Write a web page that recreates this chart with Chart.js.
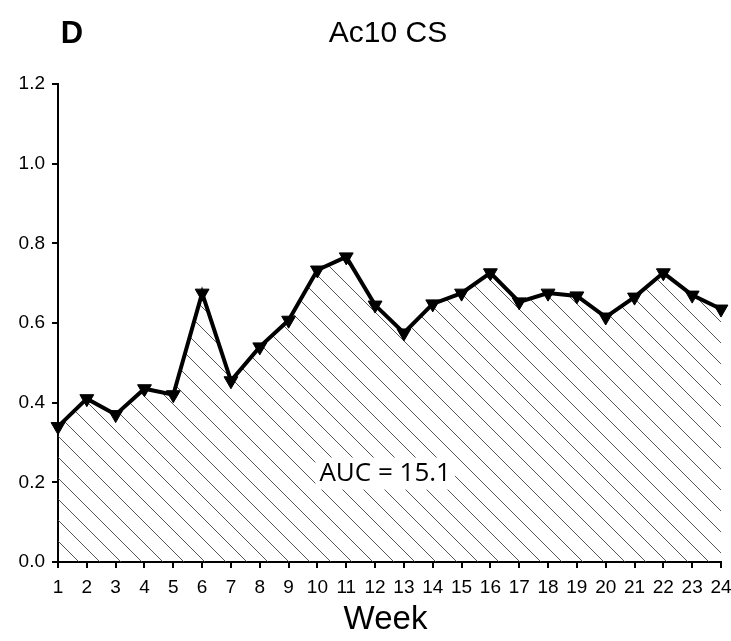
<!DOCTYPE html>
<html>
<head>
<meta charset="utf-8">
<script src="https://cdn.jsdelivr.net/npm/chart.js@4/dist/chart.umd.min.js"></script>
<style>
  html, body { margin: 0; padding: 0; background: #fff; }
  #wrap { width: 731px; height: 641px; }
</style>
</head>
<body>
<div id="wrap"><canvas id="aucChart" width="731" height="641"></canvas></div>
<script>
// weekly values for Ac10 CS
const weeks = [1, 2, 3, 4, 5, 6, 7, 8, 9, 10, 11, 12, 13, 14, 15, 16, 17, 18, 19, 20, 21, 22, 23, 24];
const values = [0.34, 0.41, 0.37, 0.435, 0.42, 0.675, 0.455, 0.54, 0.607, 0.733, 0.766, 0.645,
                 0.575, 0.648, 0.675, 0.726, 0.653, 0.675, 0.668, 0.615, 0.665, 0.726, 0.67, 0.635];
const yTicks = [0.0, 0.2, 0.4, 0.6, 0.8, 1.0, 1.2];
const panelLetter = 'D';
const chartTitle = 'Ac10 CS';
const xTitle = 'Week';
const aucLabel = 'AUC = 15.1';

// diagonal hatch used under the line
function makeHatch() {
  const size = 21;
  const c = document.createElement('canvas');
  c.width = size; c.height = size;
  const g = c.getContext('2d');
  g.strokeStyle = '#444';
  g.lineWidth = 0.9;
  g.beginPath();
  g.moveTo(-2, -2); g.lineTo(size + 2, size + 2);
  g.moveTo(-2 - size, -2); g.lineTo(2, size + 2);
  g.moveTo(size - 2, -2); g.lineTo(2 * size + 2, size + 2);
  g.stroke();
  return g.createPattern(c, 'repeat');
}

// panel letter, title, axis title and AUC box
const textPlugin = {
  id: 'texts',
  afterDraw(chart) {
    const ctx = chart.ctx;
    const area = chart.chartArea;
    const xs = chart.scales.x, ys = chart.scales.y;
    ctx.save();
    ctx.fillStyle = '#000';
    ctx.textBaseline = 'middle';
    ctx.textAlign = 'center';
    ctx.font = 'bold 31px "Liberation Sans", Arial, sans-serif';
    ctx.fillText(panelLetter, 72, 34);
    ctx.font = '30px "Liberation Sans", Arial, sans-serif';
    ctx.fillText(chartTitle, 388, 34);
    ctx.font = '33px "Liberation Sans", Arial, sans-serif';
    ctx.fillText(xTitle, (area.left + area.right) / 2 - 4, 620);

    const tx = xs.getPixelForValue(12.35);
    const ty = ys.getPixelForValue(0.222);
    ctx.font = '26px "Open Sans", sans-serif';
    const w = ctx.measureText(aucLabel).width;
    ctx.fillStyle = '#fff';
    ctx.fillRect(tx - w / 2 - 4, ty - 16, w + 8, 32);
    ctx.fillStyle = '#000';
    ctx.fillText(aucLabel, tx, ty);
    ctx.restore();
  }
};

const ctx = document.getElementById('aucChart').getContext('2d');
const chart = new Chart(ctx, {
  type: 'line',
  data: {
    labels: weeks,
    datasets: [{
      data: weeks.map((w, i) => ({ x: w, y: values[i] })),
      borderColor: '#000',
      borderWidth: 4,
      backgroundColor: makeHatch(),
      fill: 'origin',
      tension: 0,
      pointStyle: 'triangle',
      rotation: 180,
      pointRadius: 8,
      pointBorderWidth: 1,
      pointBackgroundColor: '#000',
      pointBorderColor: '#000',
      clip: false
    }]
  },
  options: {
    responsive: false,
    animation: false,
    layout: { padding: { top: 84, right: 2, left: 0, bottom: 0 } },
    plugins: {
      legend: { display: false },
      tooltip: { enabled: false },
      title: { display: false }
    },
    scales: {
      x: {
        type: 'linear',
        min: 1,
        max: 24,
        afterFit(s) { s.height = 79; s.paddingRight = 10; s.paddingLeft = 0; },
        ticks: {
          stepSize: 1,
          color: '#000',
          padding: 8,
          maxRotation: 0,
          autoSkip: false,
          font: { family: '"Liberation Sans", Arial, sans-serif', size: 19 }
        },
        grid: { drawOnChartArea: false, tickLength: 6, color: '#000', lineWidth: 2 },
        border: { color: '#000', width: 2 }
      },
      y: {
        min: 0,
        max: 1.2,
        afterFit(s) { s.width = 58; },
        afterBuildTicks(s) { s.ticks = yTicks.map(v => ({ value: v })); },
        ticks: {
          color: '#000',
          padding: 7,
          callback: v => v.toFixed(1),
          font: { family: '"Liberation Sans", Arial, sans-serif', size: 19 }
        },
        grid: { drawOnChartArea: false, tickLength: 6, color: '#000', lineWidth: 2 },
        border: { color: '#000', width: 2 }
      }
    }
  },
  plugins: [textPlugin]
});
</script>
</body>
</html>
